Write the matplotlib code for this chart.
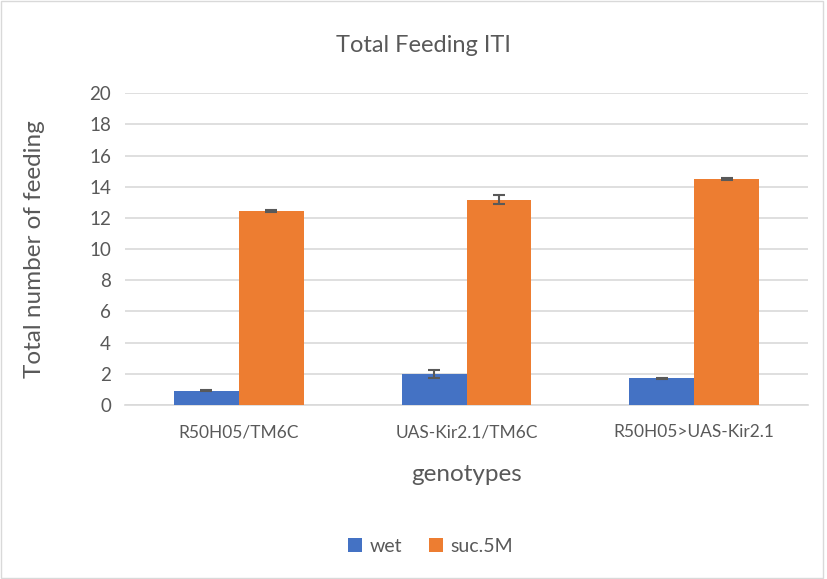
import numpy as np
import matplotlib.pyplot as plt
from matplotlib.patches import Rectangle

plt.rcParams['font.family'] = ['Lato', 'DejaVu Sans']

genotypes = ['R50H05/TM6C', 'UAS-Kir2.1/TM6C', 'R50H05>UAS-Kir2.1']
wet = [0.92, 2.0, 1.71]
wet_err = [0.04, 0.27, 0.05]
suc = [12.45, 13.18, 14.47]
suc_err = [0.06, 0.27, 0.06]

fig = plt.figure(figsize=(8.28, 5.79), dpi=100)
ax = fig.add_axes([0.151, 0.3005, 0.825, 0.5385])

x = np.arange(len(genotypes))
w = 0.285
err_kw = dict(ecolor='#595959', elinewidth=1.5, capsize=4, capthick=1.5)
ax.bar(x - w / 2, wet, w, yerr=wet_err, color='#4472C4', label='wet',
       error_kw=err_kw, zorder=3)
ax.bar(x + w / 2, suc, w, yerr=suc_err, color='#ED7D31', label='suc.5M',
       error_kw=err_kw, zorder=3)

ax.set_xlim(-0.5, 2.5)
ax.set_ylim(0, 20)
ax.set_yticks(range(0, 21, 2))
ax.set_xticks(x)
ax.set_xticklabels(genotypes)
ax.tick_params(axis='both', length=0, colors='#595959')
ax.tick_params(axis='x', pad=14, labelsize=12.5)
ax.tick_params(axis='y', pad=10, labelsize=13.5)
ax.yaxis.grid(True, color='#d9d9d9', linewidth=1.2, zorder=0)
for s in ['top', 'right', 'left']:
    ax.spines[s].set_visible(False)
ax.spines['bottom'].set_color('#d9d9d9')
ax.spines['bottom'].set_linewidth(1.2)

fig.text(0.511, 0.922, 'Total Feeding ITI', fontsize=17, color='#595959',
         ha='center', va='center')
ax.set_ylabel('Total number of feeding', fontsize=17.5, color='#595959')
ax.yaxis.set_label_coords(-0.117, 0.5)
ax.set_xlabel('genotypes', fontsize=17.5, color='#595959')
ax.xaxis.set_label_coords(0.5, -0.19)

fig.legend(loc='center', bbox_to_anchor=(0.52, 0.056), ncol=2, frameon=False,
           fontsize=14, handlelength=0.7, handleheight=0.7, columnspacing=1.4,
           handletextpad=0.4, labelcolor='#595959')

fig.patches.append(Rectangle((0.001, 0.002), 0.993, 0.996, transform=fig.transFigure,
                             fill=False, edgecolor='#d9d9d9', linewidth=1))

fig.savefig('out.png', dpi=100)
